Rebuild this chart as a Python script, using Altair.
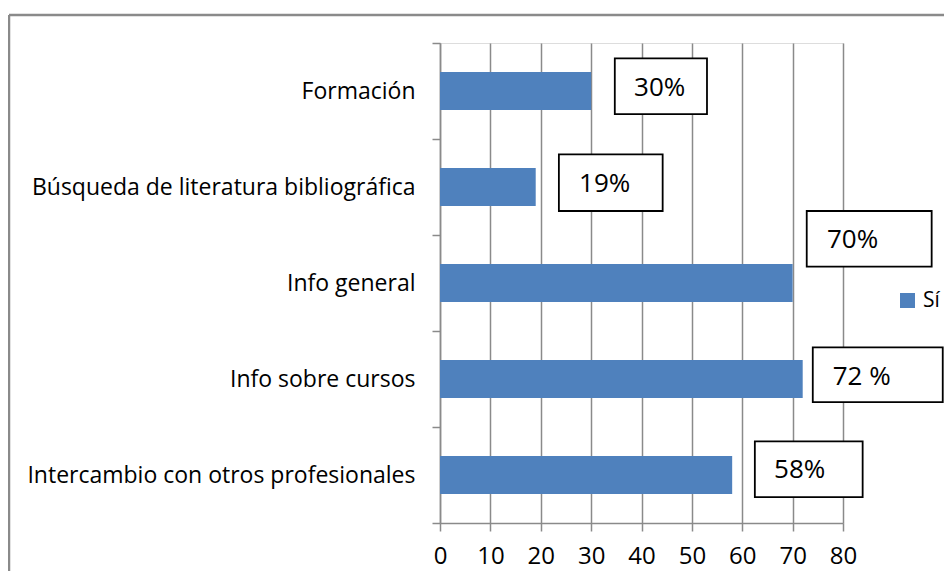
import altair as alt
import pandas as pd

# ---- data ----
categories = ["Formación", "Búsqueda de literatura bibliográfica", "Info general",
              "Info sobre cursos", "Intercambio con otros profesionales"]
values = [30, 19, 70, 72, 58]
value_labels = ["30%", "19%", "70%", "72 %", "58%"]
series_name = "Sí"
x_ticks = [0, 10, 20, 30, 40, 50, 60, 70, 80]

# ---- annotation (label box) placement, in data / band units ----
box_x0 = [34.7, 23.6, 72.8, 74.0, 62.5]
box_x1 = [53.0, 44.2, 97.6, 99.8, 83.9]
box_y0 = [0.16, 1.16, 1.75, 3.17, 4.15]
box_y1 = [0.74, 1.75, 2.33, 3.74, 4.73]
text_x = [43.6, 32.7, 81.9, 83.7, 71.4]
text_y = [0.47, 1.47, 2.05, 3.48, 4.45]

FONT = "Open Sans"
BLUE = "#4F81BD"
GRID = "#8a8a8a"

bars_df = pd.DataFrame({"cat": categories, "val": values, "serie": [series_name] * len(values)})
ann_df = pd.DataFrame({"x0": box_x0, "x1": box_x1, "y0": box_y0, "y1": box_y1,
                       "tx": text_x, "ty": text_y, "lab": value_labels})

W, H = 403, 480

x_scale = alt.Scale(domain=[0, 80], nice=False, zero=True)

bars = alt.Chart(bars_df).mark_bar(size=38).encode(
    x=alt.X("val:Q", scale=x_scale,
            axis=alt.Axis(values=x_ticks, title=None, grid=True, gridColor=GRID, gridWidth=1.5,
                          domainColor=GRID, domainWidth=1.5, tickColor=GRID, tickWidth=1.5,
                          tickSize=8, labelFontSize=24, labelFont=FONT, labelColor="#000",
                          labelPadding=13, labelFlush=False, labelOverlap=False)),
    y=alt.Y("cat:N", sort=categories, scale=alt.Scale(paddingInner=0, paddingOuter=0),
            axis=alt.Axis(title=None, tickBand="extent", tickSize=8, tickColor=GRID, tickWidth=1.5,
                          domainColor=GRID, domainWidth=1.5, labelFontSize=23, labelFont=FONT,
                          labelColor="#000", labelPadding=17, labelLimit=500)),
    color=alt.Color("serie:N", scale=alt.Scale(range=[BLUE]),
                    legend=alt.Legend(title=None, orient="none", legendX=457, legendY=247,
                                      symbolType="square", symbolSize=225, symbolStrokeWidth=0,
                                      labelFontSize=21, labelFont=FONT, labelColor="#000",
                                      labelOffset=5, padding=0)),
)

ann_y = alt.Scale(domain=[0, 5], reverse=True, nice=False, zero=False)

boxes = alt.Chart(ann_df).mark_rect(fill="white", stroke="black", strokeWidth=1.8).encode(
    x=alt.X("x0:Q", scale=x_scale),
    x2="x1:Q",
    y=alt.Y("y0:Q", scale=ann_y, axis=None),
    y2="y1:Q",
)

texts = alt.Chart(ann_df).mark_text(font=FONT, fontSize=26, color="black",
                                    align="center", baseline="middle").encode(
    x=alt.X("tx:Q", scale=x_scale),
    y=alt.Y("ty:Q", scale=ann_y, axis=None),
    text="lab:N",
)

one = pd.DataFrame({"k": [0]})
frame_top = alt.Chart(one).mark_rule(color=GRID, strokeWidth=2.5).encode(
    x=alt.value(-431), x2=alt.value(510), y=alt.value(-28))
frame_left = alt.Chart(one).mark_rule(color=GRID, strokeWidth=2.5).encode(
    x=alt.value(-431), y=alt.value(-28), y2=alt.value(540))

chart = alt.layer(bars, boxes, texts, frame_top, frame_left).resolve_scale(
    y="independent", color="independent"
).properties(
    width=W, height=H,
    autosize=alt.AutoSizeParams(type="none"),
    padding={"left": 432, "top": 35, "right": 101, "bottom": 48},
).configure_view(stroke=None).configure(background="white")

chart.save("out.html", embed_options={"renderer": "svg", "actions": False})
